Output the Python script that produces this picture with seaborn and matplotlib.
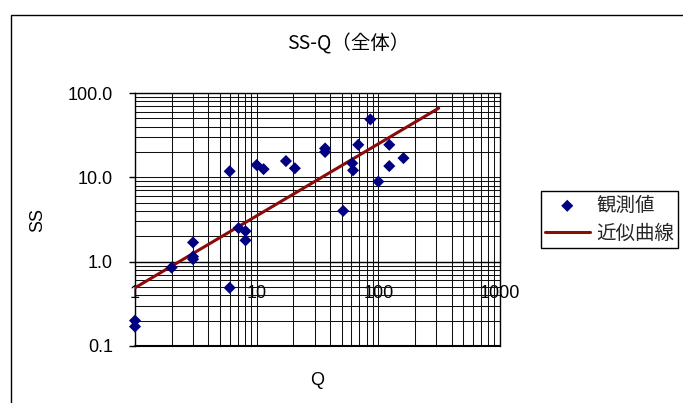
import numpy as np
import pandas as pd
import seaborn as sns
import matplotlib
matplotlib.use("Agg")
import matplotlib.pyplot as plt
from matplotlib.patches import Rectangle
from matplotlib.ticker import FixedLocator, FixedFormatter, NullFormatter, LogLocator

# ---- data ----
q_obs = [1.0, 1.0, 2.0, 3.0, 3.0, 3.0, 6.0, 6.0, 7.1, 8.1, 8.1, 10.0, 11.4, 17.4,
         20.6, 36.5, 36.5, 51.4, 61.0, 62.0, 68.4, 86.0, 100.0, 123.0, 123.0, 161.0]
ss_obs = [0.20, 0.17, 0.85, 1.69, 1.15, 1.07, 0.49, 11.8, 2.5, 2.3, 1.79, 14.0, 12.5, 15.6,
          12.8, 22.0, 20.0, 4.0, 14.7, 12.1, 24.3, 48.6, 8.9, 24.3, 13.6, 16.9]
trend_q = [1.0, 313.0]
trend_ss = [0.49, 66.0]

x_ticks = [1, 10, 100, 1000]
x_ticklabels = ["1", "10", "100", "1000"]
y_ticks = [0.1, 1, 10, 100]
y_ticklabels = ["0.1", "1.0", "10.0", "100.0"]

title = "SS-Q（全体）"
xlabel = "Q"
ylabel = "SS"
label_obs = "観測値"
label_trend = "近似曲線"

obs = pd.DataFrame({"Q": q_obs, "SS": ss_obs})
trend = pd.DataFrame({"Q": trend_q, "SS": trend_ss})

sns.set_theme(style="white")
plt.rcParams["font.family"] = ["Liberation Sans", "Noto Sans CJK JP", "DejaVu Sans"]
cjk = ["Noto Sans CJK JP", "DejaVu Sans"]

W, H = 683, 403
fig = plt.figure(figsize=(W / 100, H / 100), dpi=100)
fig.patch.set_facecolor("white")

# outer chart border
fig.patches.append(Rectangle((11 / W, -0.1), 1.2, 1 - 15 / H + 0.1, transform=fig.transFigure,
                             fill=False, edgecolor="black", linewidth=1.0))

left, right, top, bottom = 135, 500, 93, 346
ax = fig.add_axes([left / W, 1 - bottom / H, (right - left) / W, (bottom - top) / H])
ax.set_xscale("log")
ax.set_yscale("log")
ax.set_xlim(1, 1000)
ax.set_ylim(0.1, 100)

ax.set_axisbelow(True)
ax.xaxis.set_minor_locator(LogLocator(base=10, subs=np.arange(2, 10)))
ax.yaxis.set_minor_locator(LogLocator(base=10, subs=np.arange(2, 10)))
ax.xaxis.set_minor_formatter(NullFormatter())
ax.yaxis.set_minor_formatter(NullFormatter())
ax.grid(which="both", color="#111111", linewidth=0.75)

sns.lineplot(data=trend, x="Q", y="SS", ax=ax, color="#8B0A0A", linewidth=2.2,
             label=label_trend, zorder=3)
sns.scatterplot(data=obs, x="Q", y="SS", ax=ax, marker="D", s=38, color="#000080",
                edgecolor="none", linewidth=0, label=label_obs, zorder=4, clip_on=False)

ax.xaxis.set_major_locator(FixedLocator(x_ticks))
ax.xaxis.set_major_formatter(FixedFormatter(x_ticklabels))
ax.yaxis.set_major_locator(FixedLocator(y_ticks))
ax.yaxis.set_major_formatter(FixedFormatter(y_ticklabels))

ax.spines["bottom"].set_position(("data", 1))
for sp in ax.spines.values():
    sp.set_color("black")
    sp.set_linewidth(1.0)
ax.plot([0, 1], [0, 0], transform=ax.transAxes, color="black", linewidth=1.5, clip_on=False)

ax.tick_params(axis="x", which="major", direction="in", length=5, width=1, color="black",
               pad=17, labelsize=13, labelcolor="black")
ax.tick_params(axis="y", which="major", direction="out", length=4, width=1, color="black",
               pad=12, labelsize=13, labelcolor="black", left=True)
ax.tick_params(which="minor", length=0)

ax.set_xlabel(xlabel, fontsize=13, color="black")
ax.set_ylabel(ylabel, fontsize=13, color="black")
ax.xaxis.set_label_coords(0.5, -(372 - bottom) / (bottom - top))
ax.yaxis.set_label_coords((46 - left) / (right - left), 0.5)

fig.text(348 / W, 1 - 44 / H, title, ha="center", va="center", fontsize=14,
         family=cjk, color="black")

# legend
h, l = ax.get_legend_handles_labels()
order = [l.index(label_obs), l.index(label_trend)]
if ax.get_legend():
    ax.get_legend().remove()
leg = fig.legend([h[i] for i in order], [l[i] for i in order], loc="upper left",
                 bbox_to_anchor=(541 / W, 1 - 191 / H), bbox_transform=fig.transFigure,
                 frameon=True, fancybox=False, edgecolor="black", framealpha=1,
                 borderaxespad=0, borderpad=0.2, handlelength=2.3, handletextpad=0.35,
                 labelspacing=0.35, prop={"family": cjk, "size": 14})
leg.get_frame().set_linewidth(1.0)

fig.savefig("out.png", dpi=100)
